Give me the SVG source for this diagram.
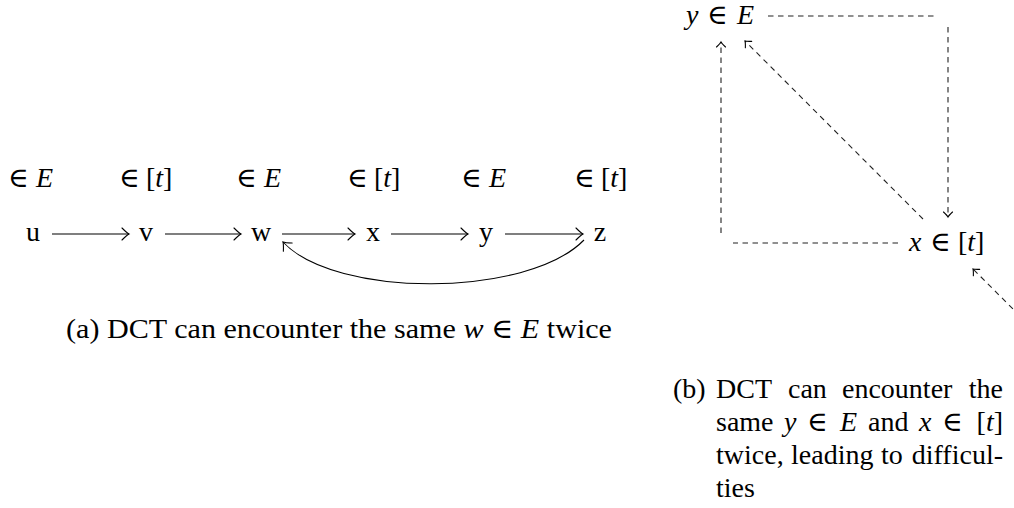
<svg xmlns="http://www.w3.org/2000/svg" width="1014" height="508" viewBox="0 0 1014 508">
<style>
text{font-family:"Liberation Serif","DejaVu Serif",serif;fill:#000}
.m{font-size:28px}
.c{font-size:28px}
.i{font-style:italic}
.sol{fill:none;stroke:#000;stroke-width:1.1}
.dash{fill:none;stroke:#222;stroke-width:1.1;stroke-dasharray:5.5 4.5}
</style>
<defs>
<marker id="to" markerUnits="userSpaceOnUse" viewBox="-9 -8 11 16" markerWidth="11" markerHeight="16" refX="0" refY="0" orient="auto" overflow="visible">
<path d="M-7,-6 Q-2,-1 0,0 Q-2,1 -7,6" fill="none" stroke="#000" stroke-width="1.1" stroke-linecap="round"/>
</marker>
<marker id="tos" markerUnits="userSpaceOnUse" viewBox="-6 -6 8 12" markerWidth="8" markerHeight="12" refX="0" refY="0" orient="auto" overflow="visible">
<path d="M-5,-4.5 Q-1.5,-0.8 0,0 Q-1.5,0.8 -5,4.5" fill="none" stroke="#000" stroke-width="1.1" stroke-linecap="round"/>
</marker>
</defs>

<!-- (a) labels -->
<g id="label-u" class="m"><text y="187"><tspan x="8">∈</tspan><tspan x="36" class="i">E</tspan></text></g>
<g id="label-v" class="m"><text y="187"><tspan x="119">∈</tspan><tspan x="146">[</tspan><tspan class="i">t</tspan><tspan>]</tspan></text></g>
<g id="label-w" class="m"><text y="187"><tspan x="236">∈</tspan><tspan x="264" class="i">E</tspan></text></g>
<g id="label-x" class="m"><text y="187"><tspan x="347">∈</tspan><tspan x="374">[</tspan><tspan class="i">t</tspan><tspan>]</tspan></text></g>
<g id="label-y" class="m"><text y="187"><tspan x="461">∈</tspan><tspan x="489" class="i">E</tspan></text></g>
<g id="label-z" class="m"><text y="187"><tspan x="574">∈</tspan><tspan x="601">[</tspan><tspan class="i">t</tspan><tspan>]</tspan></text></g>

<!-- (a) nodes -->
<g id="node-u" class="m"><text x="33" y="241" text-anchor="middle">u</text></g>
<g id="node-v" class="m"><text x="146" y="241" text-anchor="middle">v</text></g>
<g id="node-w" class="m"><text x="261" y="241" text-anchor="middle">w</text></g>
<g id="node-x" class="m"><text x="373" y="241" text-anchor="middle">x</text></g>
<g id="node-y" class="m"><text x="486" y="241" text-anchor="middle">y</text></g>
<g id="node-z" class="m"><text x="600" y="241" text-anchor="middle">z</text></g>

<g id="connectors-a">
<line class="sol" x1="52" y1="234" x2="129" y2="234" marker-end="url(#to)"/>
<line class="sol" x1="165" y1="234" x2="241" y2="234" marker-end="url(#to)"/>
<line class="sol" x1="282" y1="234" x2="355" y2="234" marker-end="url(#to)"/>
<line class="sol" x1="391" y1="234" x2="468" y2="234" marker-end="url(#to)"/>
<line class="sol" x1="505" y1="234" x2="583" y2="234" marker-end="url(#to)"/>
<path class="sol" d="M584,240 C527,298 335,298 283,242" marker-end="url(#to)"/>
</g>

<g id="caption-a" class="c"><text x="66" y="338" textLength="546" lengthAdjust="spacingAndGlyphs">(a) DCT can encounter the same <tspan class="i">w</tspan> ∈ <tspan class="i">E</tspan> twice</text></g>

<!-- (b) -->
<g id="node-yE" class="m"><text y="24"><tspan x="686" class="i">y</tspan><tspan x="707">∈</tspan><tspan x="737" class="i">E</tspan></text></g>
<g id="node-xt" class="m"><text y="251"><tspan x="909" class="i">x</tspan><tspan x="930">∈</tspan><tspan x="958">[</tspan><tspan class="i">t</tspan><tspan>]</tspan></text></g>

<g id="connectors-b">
<line class="dash" x1="768" y1="16" x2="935" y2="16"/>
<line class="dash" x1="948" y1="27" x2="948" y2="217" marker-end="url(#tos)"/>
<line class="dash" x1="923" y1="219" x2="745" y2="41" marker-end="url(#tos)"/>
<line class="dash" x1="898" y1="243" x2="733" y2="243"/>
<line class="dash" x1="721" y1="233" x2="721" y2="42" marker-end="url(#tos)"/>
<line class="dash" x1="1020" y1="316" x2="973" y2="269" marker-end="url(#tos)"/>
</g>

<g id="caption-b" class="c">
<text y="398"><tspan x="673">(b)</tspan><tspan x="716">DCT</tspan><tspan x="788">can</tspan><tspan x="842">encounter</tspan></text>
<text y="398" x="1003" text-anchor="end">the</text>
<text y="431"><tspan x="716">same</tspan><tspan x="784" class="i">y</tspan><tspan x="807">∈</tspan><tspan x="840" class="i">E</tspan><tspan x="868">and</tspan><tspan x="919" class="i">x</tspan><tspan x="942">∈</tspan></text>
<text y="431" x="1003" text-anchor="end">[<tspan class="i">t</tspan>]</text>
<text y="464"><tspan x="716">twice,</tspan><tspan x="791">leading</tspan><tspan x="881">to</tspan></text>
<text y="464" x="1003" text-anchor="end">difficul-</text>
<text y="497" x="716">ties</text>
</g>
</svg>
